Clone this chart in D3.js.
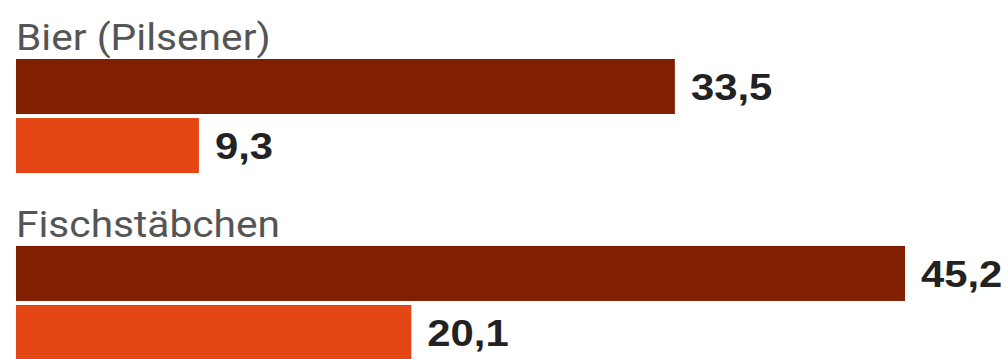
<!DOCTYPE html>
<html lang="de">
<head>
    <meta charset="UTF-8">
    <title>Bier und Fischstäbchen</title>
    <script src="https://d3js.org/d3.v7.min.js"></script>
    <style>
        body {
            margin: 0;
            background: #fff;
        }
        svg {
            display: block;
        }
    </style>
</head>
<body>
    <svg></svg>

    <script>
        // Daten
        let categories = ["Bier (Pilsener)", "Fischstäbchen"];
        let seriesNames = ["Reihe 1", "Reihe 2"];
        let seriesOne = [33.5, 45.2];
        let seriesTwo = [9.3, 20.1];
        let colors = ["#802000", "#e44616"];

        let width = 1007, height = 359;
        let stretch = 1.13; // Schrift im Original etwas breiter gezogen

        let svg = d3.select("svg")
            .attr("width", width)
            .attr("height", height);

        let dataset = categories.map((c, i) => ({
            name: c,
            values: [
                { key: seriesNames[0], value: seriesOne[i] },
                { key: seriesNames[1], value: seriesTwo[i] }
            ]
        }));

        let fmt = d3.formatLocale({ decimal: ",", thousands: ".", grouping: [3], currency: ["", " €"] }).format(".1f");

        let xScale = d3.scaleLinear()
            .domain([0, d3.max(seriesOne.concat(seriesTwo))])
            .range([16, 905]);

        let yGroup = d3.scaleBand()
            .domain(categories)
            .range([59, 360])
            .paddingInner(0.39)
            .paddingOuter(0);

        let yInner = d3.scaleBand()
            .domain(seriesNames)
            .range([0, yGroup.bandwidth()])
            .paddingInner(0.068);

        let color = d3.scaleOrdinal()
            .domain(seriesNames)
            .range(colors);

        let groups = svg.selectAll(".group")
            .data(dataset)
            .enter().append("g")
            .attr("class", "group")
            .attr("transform", d => `translate(0,${yGroup(d.name)})`);

        // Kategorie-Beschriftung
        groups.append("text")
            .attr("transform", `translate(16,-9) scale(${stretch},1)`)
            .attr("font-family", "Roboto, sans-serif")
            .attr("font-size", 36)
            .attr("fill", "#555")
            .text(d => d.name);

        groups.selectAll(".bar")
            .data(d => d.values)
            .enter().append("rect")
            .attr("class", "bar")
            .attr("x", xScale(0))
            .attr("y", d => yInner(d.key))
            .attr("width", d => xScale(d.value) - xScale(0))
            .attr("height", yInner.bandwidth())
            .attr("fill", d => color(d.key));

        groups.selectAll(".val")
            .data(d => d.values)
            .enter().append("text")
            .attr("class", "val")
            .attr("transform", d => `translate(${xScale(d.value) + 16},${yInner(d.key) + yInner.bandwidth() / 2}) scale(${stretch},1)`)
            .attr("dy", "0.36em")
            .attr("font-family", "'Liberation Sans', Arial, sans-serif")
            .attr("font-weight", "bold")
            .attr("font-size", 37)
            .attr("fill", "#222")
            .text(d => fmt(d.value));
    </script>
</body>
</html>
